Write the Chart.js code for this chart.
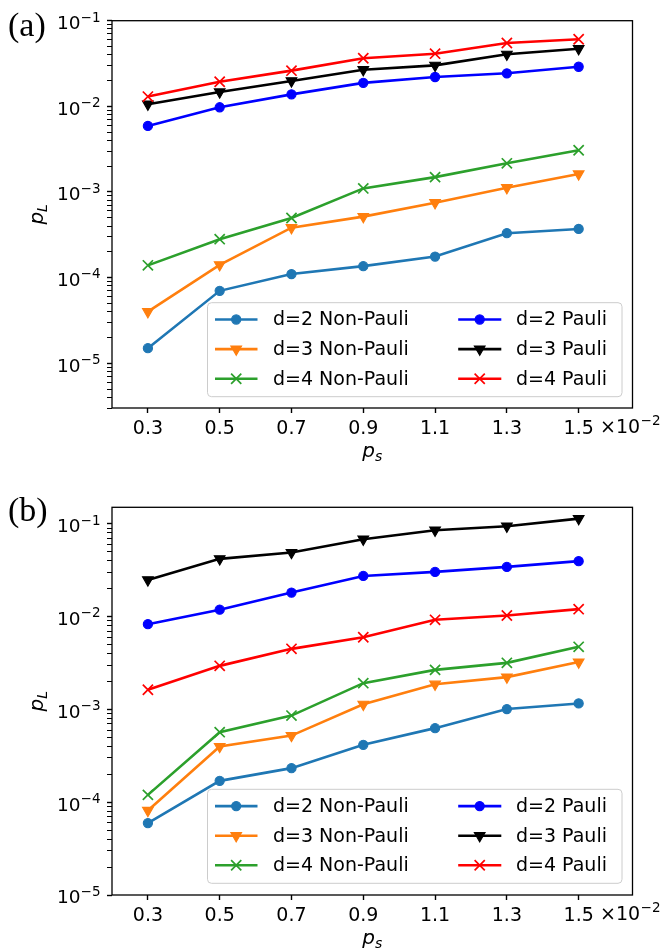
<!DOCTYPE html>
<html>
<head>
<meta charset="utf-8">
<script src="https://cdn.jsdelivr.net/npm/chart.js@4.4.1/dist/chart.umd.min.js"></script>
<style>
html,body{margin:0;padding:0;background:#ffffff;}
#wrap{position:relative;width:662px;height:952px;overflow:hidden;background:#fff;}
canvas{position:absolute;left:0;}
</style>
</head>
<body>
<div id="wrap">
<canvas id="chartA" width="662" height="470" style="top:0px"></canvas>
<canvas id="chartB" width="662" height="482" style="top:470px"></canvas>
</div>
<script>
// ---------------- data ----------------
const psValues = [0.3, 0.5, 0.7, 0.9, 1.1, 1.3, 1.5];          // p_s (x 10^-2)
const psTickLabels = ['0.3', '0.5', '0.7', '0.9', '1.1', '1.3', '1.5'];
const seriesNames = ['d=2 Non-Pauli', 'd=3 Non-Pauli', 'd=4 Non-Pauli', 'd=2 Pauli', 'd=3 Pauli', 'd=4 Pauli'];
const yDecadeValues = [1e-5, 1e-4, 1e-3, 1e-2, 1e-1];
const yDecadeBase = '10';
const yDecadeExponents = ['\u22125', '\u22124', '\u22123', '\u22122', '\u22121'];

// panel (a)
const aNonPauliD2 = [1.5e-5, 7.0e-5, 1.10e-4, 1.36e-4, 1.76e-4, 3.30e-4, 3.70e-4];
const aNonPauliD3 = [4.0e-5, 1.41e-4, 3.83e-4, 5.15e-4, 7.5e-4, 1.12e-3, 1.62e-3];
const aNonPauliD4 = [1.39e-4, 2.81e-4, 4.97e-4, 1.10e-3, 1.49e-3, 2.16e-3, 3.07e-3];
const aPauliD2 = [0.0059, 0.00975, 0.0138, 0.0188, 0.0220, 0.0243, 0.0290];
const aPauliD3 = [0.0106, 0.0147, 0.0198, 0.0268, 0.0301, 0.0405, 0.0471];
const aPauliD4 = [0.0130, 0.0194, 0.0261, 0.0364, 0.0412, 0.0550, 0.0607];

// panel (b)
const bNonPauliD2 = [5.96e-5, 1.70e-4, 2.33e-4, 4.16e-4, 6.29e-4, 1.01e-3, 1.16e-3];
const bNonPauliD3 = [8.15e-5, 3.98e-4, 5.23e-4, 1.135e-3, 1.87e-3, 2.23e-3, 3.24e-3];
const bNonPauliD4 = [1.20e-4, 5.69e-4, 8.59e-4, 1.92e-3, 2.67e-3, 3.18e-3, 4.73e-3];
const bPauliD2 = [0.0083, 0.0119, 0.0182, 0.0275, 0.0304, 0.0344, 0.0397];
const bPauliD3 = [0.0249, 0.0420, 0.0491, 0.0684, 0.0855, 0.0945, 0.114];
const bPauliD4 = [1.63e-3, 2.95e-3, 4.50e-3, 6.01e-3, 9.25e-3, 0.01028, 0.01205];

// ---------------- styles ----------------
const seriesColors = ['#1f77b4', '#ff7f0e', '#2ca02c', '#0000ff', '#000000', '#ff0000'];
const seriesMarkers = ['circle', 'triangle', 'crossRot', 'circle', 'triangle', 'crossRot'];
const FONT = '"DejaVu Sans", "Noto Sans", sans-serif';

Chart.defaults.color = '#000';
Chart.defaults.font.family = FONT;

function markerRadius(m) { return m === 'circle' ? 4.6 : (m === 'triangle' ? 6.2 : 7.2); }
function markerBorder(m) { return m === 'crossRot' ? 1.7 : 1.1; }

function makeDatasets(list) {
  return list.map((vals, i) => ({
    label: seriesNames[i],
    data: psValues.map((x, j) => ({ x: x, y: vals[j] })),
    borderColor: seriesColors[i],
    backgroundColor: seriesColors[i],
    borderWidth: 2.6,
    pointStyle: seriesMarkers[i],
    pointRadius: markerRadius(seriesMarkers[i]),
    pointRotation: seriesMarkers[i] === 'triangle' ? 180 : 0,
    pointBorderWidth: markerBorder(seriesMarkers[i]),
    pointBorderColor: seriesColors[i],
    pointBackgroundColor: seriesColors[i],
    fill: false,
    tension: 0,
    order: list.length - 1 - i
  }));
}

function mantissa(v) {
  if (!(v > 0)) return NaN;
  const e = Math.floor(Math.log10(v) + 1e-9);
  return v / Math.pow(10, e);
}
function isDecade(v) {
  return yDecadeValues.some(d => Math.abs(v / d - 1) < 1e-6);
}
function isShownTick(v) {
  const m = mantissa(v);
  if (!isFinite(m)) return false;
  const r = Math.round(m);
  return Math.abs(m - r) < 1e-6 && r >= 1 && r <= 9;
}

function yScale(min, max) {
  return {
    type: 'logarithmic',
    position: 'left',
    min: min,
    max: max,
    border: { display: false },
    grid: {
      drawOnChartArea: false,
      drawTicks: true,
      tickLength: 5,
      tickColor: (c) => (c.tick && isShownTick(c.tick.value)) ? '#000' : 'rgba(0,0,0,0)',
      tickWidth: (c) => (c.tick && isDecade(c.tick.value)) ? 1.4 : 1.0
    },
    ticks: {
      display: false,
      autoSkip: false
    },
    afterFit: (s) => { s.width = 112; }
  };
}

function xScale(h) {
  return {
    type: 'linear',
    position: 'bottom',
    min: 0.2,
    max: 1.65,
    border: { display: false },
    grid: {
      drawOnChartArea: false,
      drawTicks: true,
      tickLength: 5,
      tickColor: '#000',
      tickWidth: 1.4
    },
    ticks: {
      autoSkip: false,
      maxRotation: 0,
      padding: 5,
      color: '#000',
      font: { family: FONT, size: 19 },
      callback: (v) => {
        const k = psValues.findIndex(p => Math.abs(p - v) < 1e-9);
        return k >= 0 ? psTickLabels[k] : '';
      }
    },
    afterBuildTicks: (s) => { s.ticks = psValues.map(v => ({ value: v })); },
    afterFit: (s) => { s.height = h; }
  };
}

function drawMarker(ctx, style, x, y, r, color, bw) {
  ctx.save();
  ctx.fillStyle = color;
  ctx.strokeStyle = color;
  ctx.lineWidth = bw;
  ctx.beginPath();
  if (style === 'circle') {
    ctx.arc(x, y, r, 0, Math.PI * 2);
    ctx.fill(); ctx.stroke();
  } else if (style === 'triangle') {
    let rad = Math.PI;
    ctx.moveTo(x + Math.sin(rad) * r, y - Math.cos(rad) * r);
    rad += 2 * Math.PI / 3;
    ctx.lineTo(x + Math.sin(rad) * r, y - Math.cos(rad) * r);
    rad += 2 * Math.PI / 3;
    ctx.lineTo(x + Math.sin(rad) * r, y - Math.cos(rad) * r);
    ctx.closePath();
    ctx.fill(); ctx.stroke();
  } else {
    const o = r * Math.SQRT1_2;
    ctx.moveTo(x - o, y - o); ctx.lineTo(x + o, y + o);
    ctx.moveTo(x + o, y - o); ctx.lineTo(x - o, y + o);
    ctx.stroke();
  }
  ctx.restore();
}

function roundRect(ctx, x, y, w, h, r) {
  ctx.beginPath();
  ctx.moveTo(x + r, y);
  ctx.lineTo(x + w - r, y);
  ctx.arcTo(x + w, y, x + w, y + r, r);
  ctx.lineTo(x + w, y + h - r);
  ctx.arcTo(x + w, y + h, x + w - r, y + h, r);
  ctx.lineTo(x + r, y + h);
  ctx.arcTo(x, y + h, x, y + h - r, r);
  ctx.lineTo(x, y + r);
  ctx.arcTo(x, y, x + r, y, r);
  ctx.closePath();
}

const figPlugin = {
  id: 'figdeco',
  afterDraw(chart, args, o) {
    const ctx = chart.ctx;
    const ca = chart.chartArea;
    ctx.save();
    // axes frame
    ctx.strokeStyle = '#000';
    ctx.lineWidth = 1.3;
    ctx.strokeRect(ca.left, ca.top, ca.right - ca.left, ca.bottom - ca.top);

    ctx.fillStyle = '#000';
    ctx.textAlign = 'left';
    ctx.textBaseline = 'alphabetic';

    // y decade tick labels (10^-n), placed with the y scale
    const ys = chart.scales.y;
    yDecadeValues.forEach((v, k) => {
      if (v < ys.min * 0.999 || v > ys.max * 1.001) return;
      const py = ys.getPixelForValue(v);
      const exp = yDecadeExponents[k];
      ctx.font = '13.5px ' + FONT;
      const we = ctx.measureText(exp).width;
      ctx.font = '18.5px ' + FONT;
      const wb = ctx.measureText(yDecadeBase).width;
      const right = ca.left - 11.5;
      ctx.fillText(yDecadeBase, right - we - wb, py + 8.3);
      ctx.font = '13.5px ' + FONT;
      ctx.fillText(exp, right - we, py + 0.8);
    });

    // panel label
    ctx.font = '34px "Liberation Serif", "Times New Roman", serif';
    ctx.fillText(o.panel, 8, o.panelBaseline);

    // y axis title p_L (rotated)
    const midY = (ca.top + ca.bottom) / 2;
    ctx.save();
    ctx.translate(43, midY);
    ctx.rotate(-Math.PI / 2);
    ctx.font = 'italic 20px ' + FONT;
    const wp = ctx.measureText('p').width;
    ctx.font = 'italic 14px ' + FONT;
    const wl = ctx.measureText('L').width;
    const tot = wp + wl;
    ctx.font = 'italic 20px ' + FONT;
    ctx.fillText('p', -tot / 2, 0);
    ctx.font = 'italic 14px ' + FONT;
    ctx.fillText('L', -tot / 2 + wp, 3.5);
    ctx.restore();

    // x axis title p_s
    const midX = (ca.left + ca.right) / 2;
    ctx.font = 'italic 20px ' + FONT;
    const wp2 = ctx.measureText('p').width;
    ctx.font = 'italic 14px ' + FONT;
    const ws = ctx.measureText('s').width;
    const tot2 = wp2 + ws;
    ctx.font = 'italic 20px ' + FONT;
    ctx.fillText('p', midX - tot2 / 2, ca.bottom + 49);
    ctx.font = 'italic 14px ' + FONT;
    ctx.fillText('s', midX - tot2 / 2 + wp2, ca.bottom + 53);

    // offset text  x10^-2
    ctx.font = '19px ' + FONT;
    ctx.fillText('\u00D710', 600, ca.bottom + 25);
    const w10 = ctx.measureText('\u00D710').width;
    ctx.font = '13.5px ' + FONT;
    ctx.fillText('\u22122', 600 + w10 + 0.5, ca.bottom + 17);

    // legend
    const lx = 207.5, lw = 414.5, lh = 94;
    const ly = o.legendTop;
    roundRect(ctx, lx, ly, lw, lh, 4);
    ctx.fillStyle = 'rgba(255,255,255,0.8)';
    ctx.fill();
    ctx.strokeStyle = '#cccccc';
    ctx.lineWidth = 1;
    ctx.stroke();
    const cols = [{ l0: 215, l1: 257.5, m: 236.2, t: 273 }, { l0: 458.2, l1: 501.3, m: 479.7, t: 516 }];
    chart.data.datasets.forEach((ds, i) => {
      const c = cols[Math.floor(i / 3)];
      const y = ly + 16.8 + 29.6 * (i % 3);
      ctx.strokeStyle = ds.borderColor;
      ctx.lineWidth = ds.borderWidth;
      ctx.beginPath();
      ctx.moveTo(c.l0, y); ctx.lineTo(c.l1, y);
      ctx.stroke();
      drawMarker(ctx, ds.pointStyle, c.m, y, ds.pointRadius, ds.borderColor, ds.pointBorderWidth);
      ctx.fillStyle = '#000';
      ctx.font = '19px ' + FONT;
      ctx.textBaseline = 'middle';
      ctx.fillText(ds.label, c.t, y + 1);
      ctx.textBaseline = 'alphabetic';
    });
    ctx.restore();
  }
};

function makeChart(id, lists, yMin, yMax, padTop, xH, deco) {
  return new Chart(document.getElementById(id), {
    type: 'line',
    data: { datasets: makeDatasets(lists) },
    options: {
      responsive: false,
      animation: false,
      events: [],
      layout: { padding: { top: padTop, left: 0, right: 29.5, bottom: 0 } },
      scales: { x: xScale(xH), y: yScale(yMin, yMax) },
      plugins: {
        legend: { display: false },
        tooltip: { enabled: false },
        figdeco: deco
      }
    },
    plugins: [figPlugin]
  });
}

makeChart('chartA',
  [aNonPauliD2, aNonPauliD3, aNonPauliD4, aPauliD2, aPauliD3, aPauliD4],
  3.0e-6, 0.1, 20.7, 62,
  { panel: '(a)', panelBaseline: 36, legendTop: 302.7 });

makeChart('chartB',
  [bNonPauliD2, bNonPauliD3, bNonPauliD4, bPauliD2, bPauliD3, bPauliD4],
  1e-5, 0.151, 37.3, 57,
  { panel: '(b)', panelBaseline: 51, legendTop: 319.3 });
</script>
</body>
</html>
